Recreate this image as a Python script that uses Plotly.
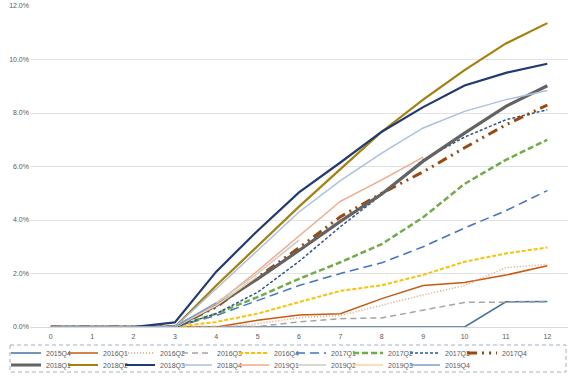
import plotly.graph_objects as go

x_periods = list(range(13))
y_ticks = [0, 2, 4, 6, 8, 10, 12]
y_tick_labels = ["0.0%", "2.0%", "4.0%", "6.0%", "8.0%", "10.0%", "12.0%"]

s2015Q4 = [0, 0, 0, 0, 0, 0, 0, 0, 0, 0, 0, 0.94, 0.95]
s2016Q1 = [0, 0, 0, 0, 0, 0.25, 0.45, 0.5, 1.06, 1.55, 1.66, 1.94, 2.29]
s2016Q2 = [0, 0, 0, 0, 0, 0.12, 0.35, 0.43, 0.81, 1.2, 1.55, 2.22, 2.34]
s2016Q3 = [0, 0, 0, 0, 0, 0.02, 0.19, 0.31, 0.34, 0.62, 0.92, 0.93, 0.94]
s2016Q4 = [0, 0, 0, 0, 0.19, 0.5, 0.93, 1.35, 1.56, 1.95, 2.44, 2.75, 2.97]
s2017Q1 = [0, 0, 0, 0, 0.43, 1.0, 1.55, 2.0, 2.4, 3.0, 3.7, 4.35, 5.1]
s2017Q2 = [0, 0, 0, 0, 0.5, 1.12, 1.8, 2.42, 3.1, 4.1, 5.35, 6.25, 7.0]
s2017Q3 = [0, 0, 0, 0, 0.5, 1.3, 2.45, 3.75, 4.95, 6.25, 7.1, 7.75, 8.12]
s2017Q4 = [0, 0, 0, 0, 0.75, 1.84, 2.96, 4.12, 5.0, 5.8, 6.7, 7.56, 8.3]
s2018Q1 = [0, 0, 0, 0, 0.8, 1.8, 2.86, 3.95, 4.97, 6.2, 7.25, 8.25, 9.02]
s2018Q2 = [0, 0, 0, 0, 1.55, 3.04, 4.5, 5.9, 7.3, 8.5, 9.6, 10.6, 11.36]
s2018Q3 = [0, 0, 0, 0.17, 2.07, 3.6, 5.03, 6.15, 7.3, 8.22, 9.03, 9.5, 9.84]
s2018Q4 = [0, 0, 0, 0, 1.43, 2.86, 4.3, 5.47, 6.5, 7.44, 8.06, 8.5, 8.84]
s2019Q1 = [0, 0, 0, 0, 0.87, 2.1, 3.4, 4.7, 5.5, 6.35]
s2019Q2 = [0, 0, 0, 0, 0.9, 2.0, 3.25]
s2019Q3 = [0, 0, 0, 0, 0.8, 1.9]
s2019Q4 = [0, 0, 0, 0, 0.9]

series = [
    ("2015Q4", s2015Q4, "#41729f", 1.5, "solid"),
    ("2016Q1", s2016Q1, "#c55a11", 1.5, "solid"),
    ("2016Q2", s2016Q2, "#f0a070", 1.5, "1px,2px"),
    ("2016Q3", s2016Q3, "#a5a5a5", 1.5, "6px,4px"),
    ("2016Q4", s2016Q4, "#ffc000", 2, "4px,2px"),
    ("2017Q1", s2017Q1, "#4472c4", 1.5, "9px,5px"),
    ("2017Q2", s2017Q2, "#70ad47", 2.5, "6px,3px"),
    ("2017Q3", s2017Q3, "#2f5597", 1.5, "3px,2px"),
    ("2017Q4", s2017Q4, "#9e480e", 3, "10px,5px,2px,5px,2px,5px"),
    ("2018Q1", s2018Q1, "#636363", 3.2, "solid"),
    ("2018Q2", s2018Q2, "#a5800a", 2.2, "solid"),
    ("2018Q3", s2018Q3, "#203a72", 2.2, "solid"),
    ("2018Q4", s2018Q4, "#a9c0e2", 1.5, "solid"),
    ("2019Q1", s2019Q1, "#f4a98a", 1.5, "solid"),
    ("2019Q2", s2019Q2, "#c9c9c9", 1.5, "solid"),
    ("2019Q3", s2019Q3, "#fbd4a0", 1.5, "solid"),
    ("2019Q4", s2019Q4, "#7f9dcc", 1.5, "solid"),
]

fig = go.Figure()
for i, (name, vals, color, width, dash) in enumerate(series):
    extra = {}
    if i in (8, 16):
        extra["legendwidth"] = 24
    fig.add_trace(go.Scatter(
        x=x_periods[:len(vals)], y=vals, name=name, mode="lines",
        line=dict(color=color, width=width, dash=dash),
        legend="legend" if i < 9 else "legend2",
        **extra,
    ))

font_family = "Liberation Sans, Arial, sans-serif"
legend_common = dict(
    orientation="h", xanchor="left", yanchor="top",
    x=-24 / 538, bgcolor="rgba(0,0,0,0)", borderwidth=0,
    font=dict(size=7, color="#595959", family=font_family),
    entrywidth=12, entrywidthmode="pixels", itemwidth=30,
    traceorder="normal",
)

fig.update_layout(
    width=576, height=377,
    margin=dict(l=30, r=8, t=6, b=50, autoexpand=False),
    paper_bgcolor="white", plot_bgcolor="white",
    font=dict(family=font_family, size=7, color="#595959"),
    showlegend=True,
    legend=dict(legend_common, y=-0.0358),
    legend2=dict(legend_common, y=-0.0732),
    xaxis=dict(
        range=[-0.5, 12.5], tickmode="array", tickvals=x_periods,
        ticktext=[str(v) for v in x_periods], showgrid=False,
        showline=True, linecolor="#d9d9d9", linewidth=1,
        ticks="", zeroline=False, tickfont=dict(size=7, color="#595959"),
        ticklabelstandoff=3, automargin=False,
    ),
    yaxis=dict(
        range=[0, 12], tickmode="array", tickvals=y_ticks, ticktext=y_tick_labels,
        showgrid=True, gridcolor="#e3e3e3", gridwidth=1, zeroline=False,
        ticks="", showline=False, tickfont=dict(size=7, color="#595959"),
        automargin=False,
    ),
    shapes=[dict(
        type="rect", xref="paper", yref="paper",
        x0=(10 - 30) / 538, x1=(566 - 30) / 538,
        y0=(327 - 345) / 321, y1=(327 - 372) / 321,
        line=dict(color="#9fb0c8", width=1, dash="4px,3px"),
        fillcolor="rgba(0,0,0,0)", layer="below",
    )],
)

fig.write_html("out.html", config={"displayModeBar": False},
               post_script="document.body.style.margin='0';")
